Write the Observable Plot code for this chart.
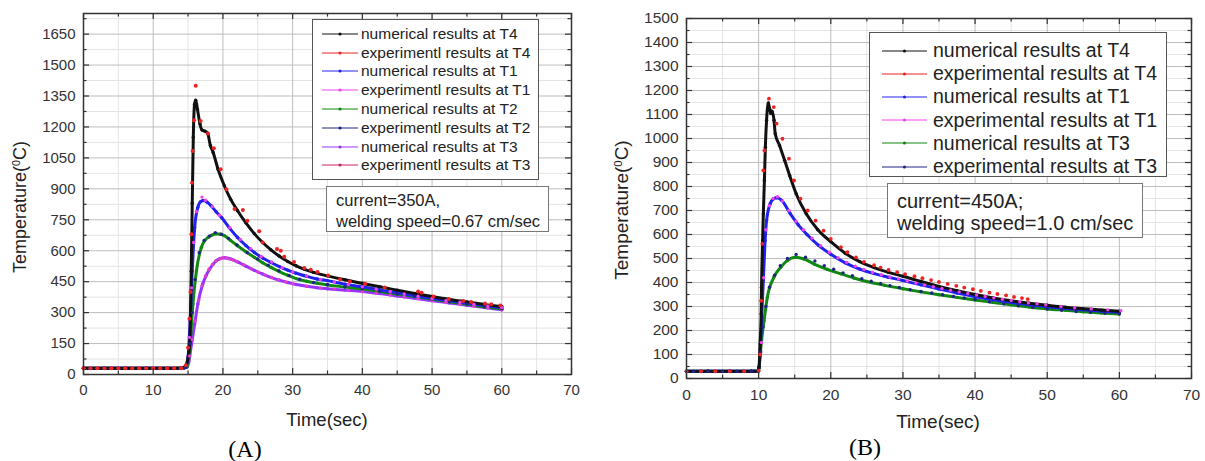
<!DOCTYPE html>
<html>
<head>
<meta charset="utf-8">
<script src="https://cdn.jsdelivr.net/npm/d3@7"></script>
<script src="https://cdn.jsdelivr.net/npm/@observablehq/plot@0.6"></script>
<style>
  body { margin: 0; background: #fff; font-family: "Liberation Sans", Arial, sans-serif; }
  #root { position: relative; width: 1205px; height: 461px; overflow: hidden; }
  .legend { position: absolute; background: #fff; border: 1px solid #555; box-sizing: border-box; color: #222; }
  .legend .row { display: flex; align-items: center; white-space: nowrap; }
  .note { position: absolute; background: #fff; border: 1px solid #777; box-sizing: border-box; color: #222; white-space: nowrap; }
  .ytitle { position: absolute; transform: translate(-50%, -50%) rotate(-90deg); white-space: nowrap; color: #222; }
  .xtitle { position: absolute; transform: translate(-50%, -50%); white-space: nowrap; color: #222; }
  .panel { position: absolute; transform: translate(-50%, -50%); font-family: "Liberation Serif", "Times New Roman", serif; color: #000; }
</style>
</head>
<body>
<div id="root"></div>
<script>
// ---------------- Tick values ----------------
const xMajorTicks = [0, 10, 20, 30, 40, 50, 60, 70];
const xMinorTicks = [5, 15, 25, 35, 45, 55, 65];
const yMajorTicksA = [0, 150, 300, 450, 600, 750, 900, 1050, 1200, 1350, 1500, 1650];
const yMinorTicksA = [75, 225, 375, 525, 675, 825, 975, 1125, 1275, 1425, 1575, 1725];
const yMajorTicksB = [0, 100, 200, 300, 400, 500, 600, 700, 800, 900, 1000, 1100, 1200, 1300, 1400, 1500];
const yMinorTicksB = [50, 150, 250, 350, 450, 550, 650, 750, 850, 950, 1050, 1150, 1250, 1350, 1450];

// ---------------- Panel A (350 A) : [time s, temperature °C] ----------------
const A_numT4 = [[0,30],[3,30],[6,30],[9,30],[12,30],[14,31],[14.6,40],[14.9,65],[15.1,105],[15.25,155],[15.45,500],[15.6,830],[15.75,1150],[15.93,1310],[16.1,1330],[16.35,1285],[16.7,1215],[17.0,1185],[17.4,1180],[17.8,1170],[18.2,1110],[18.6,1076],[19.3,995],[20.2,915],[21.1,850],[22.1,794],[23.3,735],[24.5,683],[25.7,640],[26.9,604],[28.1,573],[29.3,548],[30.5,527],[31.7,510],[33,495],[35,478],[37.5,459],[40,442],[42.5,425],[45,409],[47.5,393],[50,378],[52.5,364],[55,352],[57.5,340],[60,330]];
const A_expT4 = [[0,30],[1,30],[2,30],[3,30],[4,30],[5,30],[6,30],[7,30],[8,30],[9,30],[10,30],[11,30],[12,30],[13,30],[14,30],[14.7,45],[15.0,130],[15.2,270],[15.35,400],[15.48,680],[15.57,930],[15.65,1084],[15.86,1232],[16.1,1400],[16.8,1229],[17.86,1168],[18.7,1097],[19.67,995],[20.5,898],[21.67,802],[22.86,797],[23.5,745],[25.2,694],[25.7,640],[27.76,608],[28.3,600],[28.8,571],[30.2,545],[31.67,516],[32.6,508],[33.57,497],[35.1,480],[36.8,462],[38.2,451],[40.4,440],[43.2,422],[48.0,402],[48.5,396],[50.2,378],[52.4,366],[54.5,356],[55.6,352],[57.6,344],[58.5,340],[59.8,335]];
const A_numT1 = [[0,30],[3,30],[6,30],[9,30],[12,30],[14,30],[14.7,36],[15.0,85],[15.3,260],[15.6,503],[15.95,713],[16.4,810],[16.8,838],[17.2,843],[17.7,836],[18.3,818],[19.0,790],[19.8,761],[20.9,712],[22.1,664],[23.3,625],[24.5,592],[25.7,565],[26.9,543],[28.1,523],[29.3,506],[30.5,491],[32,476],[33.5,463],[35,455],[37.5,438],[40,425],[42.5,410],[45,396],[47.5,382],[50,369],[52.5,357],[55,345],[57.5,334],[60,324]];
const A_expT1 = [[0,30],[2,30],[4,30],[6,30],[8,30],[10,30],[12,30],[14,30],[15.2,180],[15.5,420],[15.8,640],[16.2,790],[17.0,860],[17.5,845],[18.5,815],[19.5,772],[21,712],[22.5,655],[24,610],[25.5,572],[27,545],[28.5,518],[30,497],[32,477],[34,461],[36,448],[38,436],[40,425],[42,413],[44,402],[46,390],[48,379],[50,369],[52,359],[54,350],[56,341],[58,332],[60,325]];
const A_numT2 = [[0,30],[3,30],[6,30],[9,30],[12,30],[14,30],[14.8,35],[15.1,80],[15.4,200],[15.7,342],[16.2,503],[16.9,616],[17.4,650],[17.9,665],[18.5,677],[19.05,682],[19.6,680],[20.2,673],[21.1,650],[22.1,624],[23.3,595],[24.5,568],[25.7,542],[26.9,519],[28.1,499],[29.3,481],[30.5,465],[32,452],[33.5,442],[35,434],[37.5,424],[40,414],[42.5,402],[45,390],[47.5,378],[50,365],[52.5,352],[55,340],[57.5,328],[60,318]];
const A_expT2 = [[0,30],[3,30],[6,30],[9,30],[12,30],[14.5,32],[15.3,150],[15.6,300],[16.0,460],[16.6,590],[17.3,650],[18.1,672],[18.9,688],[19.8,680],[20.8,660],[22,628],[23.5,590],[25,560],[26.5,530],[28,503],[29.5,480],[31,462],[33,446],[35,436],[37.5,425],[40,415],[42.5,403],[45,391],[47.5,379],[50,366],[52.5,353],[55,341],[57.5,330],[60,319]];
const A_numT3 = [[0,30],[3,30],[6,30],[9,30],[12,30],[14,30],[14.9,38],[15.1,60],[15.5,148],[15.95,245],[16.4,342],[17.1,439],[17.6,480],[18.1,511],[18.6,535],[19.05,552],[19.6,562],[20.2,566],[20.9,562],[22.1,546],[23.3,525],[24.5,505],[25.7,487],[26.9,471],[28.1,457],[29.3,446],[30.5,436],[32,428],[33.5,421],[35,416],[37.5,409],[40,402],[42.5,392],[45,381],[47.5,370],[50,358],[52.5,347],[55,336],[57.5,325],[60,314]];
const A_expT3 = [[0,30],[1,30],[2,30],[3,30],[4,30],[5,30],[6,30],[7,30],[8,30],[9,30],[10,30],[11,30],[12,30],[13,30],[14,30],[15.2,90],[15.6,170],[16.0,260],[16.5,360],[17.0,430],[17.5,478],[18.0,510],[18.5,533],[19.0,550],[19.5,560],[20.0,566],[20.5,565],[21,560],[21.5,554],[22,547],[23,532],[24,513],[25,497],[26,483],[27,470],[28,459],[29,449],[30,440],[32,428],[34,420],[36,413],[38,407],[40,402],[42,394],[44,385],[46,376],[48,367],[50,358],[52,349],[54,340],[56,331],[58,322],[60,314]];

// ---------------- Panel B (450 A) ----------------
const B_numT4 = [[0,30],[3,30],[6,30],[9,30],[9.9,31],[10.05,45],[10.2,144],[10.35,269],[10.4,380],[10.55,575],[10.65,686],[10.8,825],[10.93,964],[11.1,1076],[11.34,1148],[11.55,1120],[11.7,1104],[11.85,1114],[12.13,1076],[12.3,1020],[12.9,971],[13.6,909],[14.3,846],[15.2,770],[16.6,686],[18.2,620],[20,570],[22,522],[24,487],[26,462],[28,442],[30,426],[32.5,404],[35,384],[37.5,366],[40,350],[42.5,336],[45,324],[47.5,314],[50,305],[52.5,297],[55,291],[57.5,285],[60,280]];
const B_expT4 = [[0,30],[2,30],[4,30],[6,30],[8,30],[10,32],[10.2,100],[10.35,324],[10.5,561],[10.65,867],[10.8,950],[11.43,1166],[12.1,1131],[12.5,1062],[13.3,999],[14.2,916],[14.9,825],[15.8,749],[16.8,700],[17.9,658],[19.0,616],[20,582],[21.4,547],[22.3,526],[23.5,505],[24.6,486],[26,472],[26.9,462],[28,452],[29.2,443],[30.3,435],[31.6,426],[32.7,418],[33.9,410],[35,402],[36.2,394],[37.4,386],[38.5,379],[39.7,372],[40.8,365],[42,358],[43.1,352],[44.3,346],[45.4,340],[46.5,335],[47.3,331]];
const B_numT1 = [[0,30],[3,30],[6,30],[9,30],[9.95,32],[10.2,102],[10.4,241],[10.65,408],[10.9,575],[11.1,658],[11.6,728],[12.08,749],[12.5,753],[13.2,742],[14.4,686],[15.5,640],[16.7,600],[18.3,555],[20,518],[22,482],[24,456],[26,437],[28,422],[30,408],[32.5,390],[35,373],[37.5,356],[40,341],[42.5,328],[45,317],[47.5,307],[50,299],[52.5,292],[55,286],[57.5,280],[60,276]];
const B_expT1 = [[0,30],[2,30],[4,30],[6,30],[8,30],[10,32],[10.4,150],[10.7,420],[11.0,620],[11.5,720],[12.0,750],[12.6,757],[13.3,740],[14.2,700],[15.2,655],[16.2,620],[17.4,585],[18.6,553],[19.8,526],[21,503],[22.2,484],[23.4,468],[24.6,454],[25.8,442],[27,432],[28.2,423],[29.4,415],[30.6,406],[31.8,398],[33,390],[34.2,382],[35.4,375],[36.6,368],[37.8,361],[39,354],[40.2,348],[41.4,342],[42.6,336],[43.8,330],[45,325],[46.2,320],[47.4,315],[48.6,311],[49.8,307],[51.9,300],[53.8,295],[56.1,290],[58.4,286],[60.2,283]];
const B_numT3 = [[0,30],[3,30],[6,30],[9,30],[9.95,31],[10.05,46],[10.4,157],[10.75,241],[11.2,338],[12.1,421],[13.05,463],[13.95,491],[15.1,505],[16.3,498],[17.7,477],[19.5,455],[21.4,436],[23.2,419],[25,404],[27.5,388],[30,374],[32.5,361],[35,349],[37.5,338],[40,327],[42.5,317],[45,307],[47.5,298],[50,290],[52.5,284],[55,278],[57.5,273],[60,269]];
const B_expT3 = [[0,30],[1,30],[2,30],[3,30],[4,30],[5,30],[6,30],[7,30],[8,30],[9,30],[10,31],[10.3,110],[10.6,215],[11.0,300],[11.5,380],[12.2,430],[13,470],[14,500],[15.2,517],[16.5,505],[17.8,490],[19.1,470],[20.4,455],[21.7,440],[23,428],[24.3,416],[25.6,405],[26.9,396],[28.2,387],[29.5,379],[31,370],[32.5,363],[34,356],[35.5,349],[37,342],[38.5,336],[40,330],[42,320],[44,311],[46,303],[48,296],[50,290],[52,284],[54,279],[56,276],[58,272],[60,270]];

// ---------------- Legend labels & colours ----------------
const legendA = [
  ["numerical results at T4", "#111111"],
  ["experimentl results at T4", "#ee2222"],
  ["numerical results at T1", "#2222ee"],
  ["experimentl results at T1", "#ee44ee"],
  ["numerical results at T2", "#118811"],
  ["experimentl results at T2", "#222288"],
  ["numerical results at T3", "#9933ff"],
  ["experimentl results at T3", "#cc2266"]
];
const legendB = [
  ["numerical results at T4", "#111111"],
  ["experimental results at T4", "#ee2222"],
  ["numerical results at T1", "#2222ee"],
  ["experimental results at T1", "#ee44ee"],
  ["numerical results at T3", "#118811"],
  ["experimental results at T3", "#222288"]
];
const noteA = ["current=350A,", "welding speed=0.67 cm/sec"];
const noteB = ["current=450A;", "welding speed=1.0 cm/sec"];

const toObj = arr => arr.map(([t, T]) => ({t, T}));

function makePanel(cfg) {
  const {width, height, mL, mR, mT, mB, yDomain, yMajor, yMinor, numSeries, expSeries, fontSize} = cfg;
  const plotW = width - mL - mR, plotH = height - mT - mB;
  const marks = [
    Plot.ruleX(xMinorTicks, {x: d => d, stroke: "#e4e4e4", strokeWidth: 1}),
    Plot.ruleY(yMinor, {y: d => d, stroke: "#e4e4e4", strokeWidth: 1}),
    Plot.ruleX(xMajorTicks.slice(1, -1), {x: d => d, stroke: "#bdbdbd", strokeWidth: 1}),
    Plot.ruleY(yMajor.slice(1), {y: d => d, stroke: "#bdbdbd", strokeWidth: 1})
  ];
  for (const s of numSeries) {
    const data = toObj(s.data);
    marks.push(Plot.line(data, {x: "t", y: "T", stroke: s.color, strokeWidth: 3, curve: "monotone-x"}));
    marks.push(Plot.dot(data, {x: "t", y: "T", r: 1.7, fill: s.color, stroke: null}));
  }
  for (const s of expSeries) {
    marks.push(Plot.dot(toObj(s.data), {x: "t", y: "T", r: s.r || 1.7, fill: s.color, stroke: null}));
  }
  const tk = {stroke: "#333", strokeWidth: 1.2};
  marks.push(
    Plot.tickX(xMajorTicks, {x: d => d, insetTop: plotH - 6, ...tk}),
    Plot.tickX(xMajorTicks, {x: d => d, insetBottom: plotH - 6, ...tk}),
    Plot.tickX(xMinorTicks, {x: d => d, insetTop: plotH - 3.5, ...tk}),
    Plot.tickX(xMinorTicks, {x: d => d, insetBottom: plotH - 3.5, ...tk}),
    Plot.tickY(yMajor, {y: d => d, insetRight: plotW - 6, ...tk}),
    Plot.tickY(yMajor, {y: d => d, insetLeft: plotW - 6, ...tk}),
    Plot.tickY(yMinor, {y: d => d, insetRight: plotW - 3.5, ...tk}),
    Plot.tickY(yMinor, {y: d => d, insetLeft: plotW - 3.5, ...tk}),
    Plot.frame({stroke: "#333", strokeWidth: 1.5}),
    Plot.axisX(xMajorTicks, {tickSize: 0, tickPadding: 10, fontSize, fill: "#333", label: null, tickFormat: d => String(d)}),
    Plot.axisY(yMajor, {tickSize: 0, tickPadding: 8, fontSize, fill: "#333", label: null, tickFormat: d => String(d)})
  );
  return Plot.plot({
    width, height,
    marginLeft: mL, marginRight: mR, marginTop: mT, marginBottom: mB,
    x: {domain: [0, 70], label: null},
    y: {domain: yDomain, label: null},
    style: {fontFamily: "'Liberation Sans', Arial, sans-serif", background: "transparent", overflow: "visible"},
    marks
  });
}

const root = document.getElementById("root");

const svgA = makePanel({
  width: 595, height: 440, mL: 83, mR: 24, mT: 13, mB: 66,
  yDomain: [0, 1750], yMajor: yMajorTicksA, yMinor: yMinorTicksA, fontSize: 15,
  numSeries: [
    {data: A_numT3, color: "#9933ff"},
    {data: A_numT2, color: "#118811"},
    {data: A_numT1, color: "#2222ee"},
    {data: A_numT4, color: "#111111"}
  ],
  expSeries: [
    {data: A_expT3, color: "#e040c8"},
    {data: A_expT2, color: "#222288"},
    {data: A_expT1, color: "#ee44ee"},
    {data: A_expT4, color: "#ee2222", r: 2}
  ]
});
svgA.style.position = "absolute"; svgA.style.left = "0px"; svgA.style.top = "0px";
root.appendChild(svgA);

const svgB = makePanel({
  width: 605, height: 440, mL: 86, mR: 14, mT: 18, mB: 62,
  yDomain: [0, 1500], yMajor: yMajorTicksB, yMinor: yMinorTicksB, fontSize: 15.5,
  numSeries: [
    {data: B_numT3, color: "#118811"},
    {data: B_numT1, color: "#2222ee"},
    {data: B_numT4, color: "#111111"}
  ],
  expSeries: [
    {data: B_expT3, color: "#222288"},
    {data: B_expT1, color: "#ee44ee"},
    {data: B_expT4, color: "#ee2222", r: 1.9}
  ]
});
svgB.style.position = "absolute"; svgB.style.left = "600px"; svgB.style.top = "0px";
root.appendChild(svgB);

function addLegend(items, o) {
  const box = document.createElement("div");
  box.className = "legend";
  Object.assign(box.style, {left: o.left + "px", top: o.top + "px", width: o.width + "px", height: o.height + "px",
    paddingTop: o.padTop + "px", fontSize: o.fontSize + "px"});
  for (const [label, color] of items) {
    const row = document.createElement("div");
    row.className = "row";
    row.style.height = o.rowH + "px";
    const sw = `<svg width="${o.swW}" height="10" style="margin-left:${o.swLeft}px;margin-right:${o.gap}px;flex:none">
      <line x1="0" y1="5" x2="${o.swW}" y2="5" stroke="${color}" stroke-width="1"/>
      <circle cx="${o.swW / 2}" cy="5" r="1.6" fill="${color}"/></svg>`;
    row.innerHTML = sw + `<span>${label}</span>`;
    box.appendChild(row);
  }
  root.appendChild(box);
}
addLegend(legendA, {left: 312, top: 19, width: 227, height: 161, padTop: 4.5, rowH: 18.8, fontSize: 15.5, swW: 36, swLeft: 9, gap: 3});
addLegend(legendB, {left: 869, top: 32, width: 298, height: 145, padTop: 6, rowH: 23.2, fontSize: 19.5, swW: 45, swLeft: 12, gap: 6});

function addNote(lines, o) {
  const box = document.createElement("div");
  box.className = "note";
  Object.assign(box.style, {left: o.left + "px", top: o.top + "px", width: o.width + "px", height: o.height + "px",
    fontSize: o.fontSize + "px", lineHeight: o.lh + "px", paddingLeft: o.padL + "px", paddingTop: o.padT + "px"});
  box.innerHTML = lines.join("<br>");
  root.appendChild(box);
}
addNote(noteA, {left: 326, top: 186, width: 223, height: 46, fontSize: 16.5, lh: 21, padL: 9, padT: 3});
addNote(noteB, {left: 887, top: 183, width: 256, height: 55, fontSize: 20, lh: 22, padL: 9, padT: 6});

function addText(cls, html, x, y, size) {
  const d = document.createElement("div");
  d.className = cls;
  Object.assign(d.style, {left: x + "px", top: y + "px", fontSize: size + "px"});
  d.innerHTML = html;
  root.appendChild(d);
}
const yTitle = 'Temperature(<sup style="font-size:0.6em;vertical-align:0.55em;line-height:0">0</sup>C)';
addText("ytitle", yTitle, 19.5, 207, 18);
addText("ytitle", yTitle, 622, 210, 19);
addText("xtitle", "Time(sec)", 327, 420, 18.5);
addText("xtitle", "Time(sec)", 938, 421.5, 19);
addText("panel", "(A)", 245, 449, 24);
addText("panel", "(B)", 865, 447, 24);
</script>
</body>
</html>
